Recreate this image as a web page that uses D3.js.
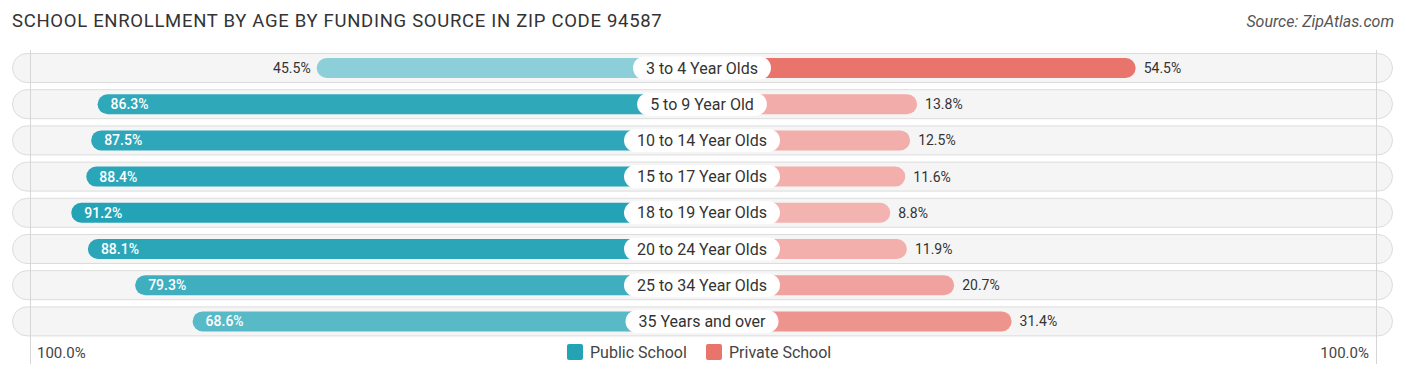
<!DOCTYPE html>
<html>
<head>
<meta charset="utf-8">
<script src="https://cdn.jsdelivr.net/npm/d3@7"></script>
<style>
  body { margin: 0; background: #fff; }
  svg { font-family: Roboto, "Open Sans", sans-serif; }
</style>
</head>
<body>
<div id="chart"></div>
<script>
// chart data
const ageGroups = ['3 to 4 Year Olds', '5 to 9 Year Old', '10 to 14 Year Olds', '15 to 17 Year Olds',
    '18 to 19 Year Olds', '20 to 24 Year Olds', '25 to 34 Year Olds', '35 Years and over'];
const publicSchool = [45.5, 86.3, 87.5, 88.4, 91.2, 88.1, 79.3, 68.6];
const privateSchool = [54.5, 13.8, 12.5, 11.6, 8.8, 11.9, 20.7, 31.4];
const seriesNames = ['Public School', 'Private School'];
const axisLabels = ['100.0%', '100.0%'];

// dimensions
const width = 1406;
const height = 377;
const center = 702;
const rowTop = 68;
const rowStep = 36.2;

const svg = d3.select('#chart')
    .append('svg')
    .attr('width', width)
    .attr('height', height);

// title + source
svg.append('text')
    .attr('x', 12)
    .attr('y', 27)
    .attr('fill', '#333')
    .style('font-size', '18.5px')
    .style('letter-spacing', '0.7px')
    .text('SCHOOL ENROLLMENT BY AGE BY FUNDING SOURCE IN ZIP CODE 94587');

svg.append('text')
    .attr('x', 1394)
    .attr('y', 27)
    .attr('text-anchor', 'end')
    .attr('fill', '#555')
    .style('font-size', '16px')
    .style('font-style', 'italic')
    .text('Source: ZipAtlas.com');

// scales: bar length from the center, offset so the label pill sits in the middle
const len = d3.scaleLinear().domain([0, 100]).range([141, 678]);
const y = d3.scaleLinear().domain([0, 1]).range([rowTop, rowTop + rowStep]);

const pubColor = d3.scaleLinear()
    .domain(d3.extent(publicSchool))
    .range(['#8dcfd9', '#24a3b6']);
const privColor = d3.scaleLinear()
    .domain(d3.extent(privateSchool))
    .range(['#f3b3b0', '#e8746c']);

// row backgrounds
const rows = svg.selectAll('.row')
    .data(ageGroups)
    .enter()
    .append('g')
    .attr('class', 'row')
    .attr('transform', (d, i) => 'translate(0,' + y(i) + ')');

rows.append('rect')
    .attr('x', 12.5)
    .attr('y', -14.5)
    .attr('width', 1380)
    .attr('height', 29)
    .attr('rx', 14.5)
    .attr('fill', '#f5f5f5')
    .attr('stroke', '#dcdcdc')
    .attr('stroke-width', 1);

// faint vertical guides at the 100% ends
[30.5, 1376.5].forEach(function(gx) {
    svg.append('line')
        .attr('x1', gx).attr('x2', gx)
        .attr('y1', 50).attr('y2', 364)
        .attr('stroke', '#d6d6d6')
        .attr('stroke-width', 1);
});

// public bars (left)
rows.append('rect')
    .attr('x', (d, i) => center - len(publicSchool[i]))
    .attr('y', -10)
    .attr('width', (d, i) => len(publicSchool[i]))
    .attr('height', 20)
    .attr('rx', 10)
    .attr('fill', (d, i) => pubColor(publicSchool[i]));

// private bars (right)
rows.append('rect')
    .attr('x', center)
    .attr('y', -10)
    .attr('width', (d, i) => len(privateSchool[i]))
    .attr('height', 20)
    .attr('rx', 10)
    .attr('fill', (d, i) => privColor(privateSchool[i]));

// public value labels
rows.append('text')
    .attr('x', (d, i) => publicSchool[i] > 60
        ? center - len(publicSchool[i]) + 13
        : center - len(publicSchool[i]) - 6)
    .attr('y', 5)
    .attr('text-anchor', (d, i) => publicSchool[i] > 60 ? 'start' : 'end')
    .attr('fill', (d, i) => publicSchool[i] > 60 ? '#fff' : '#333')
    .style('font-size', '14px')
    .style('font-weight', (d, i) => publicSchool[i] > 60 ? 500 : 400)
    .text((d, i) => publicSchool[i].toFixed(1) + '%');

// private value labels
rows.append('text')
    .attr('x', (d, i) => center + len(privateSchool[i]) + 8)
    .attr('y', 5)
    .attr('fill', '#333')
    .style('font-size', '14px')
    .text((d, i) => privateSchool[i].toFixed(1) + '%');

// center pill labels
rows.each(function(d) {
    const g = d3.select(this);
    const pill = g.append('rect');
    const t = g.append('text')
        .attr('x', center)
        .attr('y', 5.5)
        .attr('text-anchor', 'middle')
        .attr('fill', '#333')
        .style('font-size', '16px')
        .text(d);
    const w = t.node().getComputedTextLength() + 26;
    pill.attr('x', center - w / 2)
        .attr('y', -11.5)
        .attr('width', w)
        .attr('height', 23)
        .attr('rx', 11.5)
        .attr('fill', '#fff');
});

// bottom axis labels
svg.append('text')
    .attr('x', 37)
    .attr('y', 358)
    .attr('fill', '#444')
    .style('font-size', '15px')
    .text(axisLabels[0]);
svg.append('text')
    .attr('x', 1369)
    .attr('y', 358)
    .attr('text-anchor', 'end')
    .attr('fill', '#444')
    .style('font-size', '15px')
    .text(axisLabels[1]);

// legend
const legendColors = ['#24a3b6', '#e8746c'];
const legendX = [567, 706];
seriesNames.forEach(function(name, i) {
    svg.append('rect')
        .attr('x', legendX[i])
        .attr('y', 344)
        .attr('width', 16)
        .attr('height', 16)
        .attr('rx', 2)
        .attr('fill', legendColors[i]);
    svg.append('text')
        .attr('x', legendX[i] + 23)
        .attr('y', 358)
        .attr('fill', '#444')
        .style('font-size', '16px')
        .text(name);
});
</script>
</body>
</html>
